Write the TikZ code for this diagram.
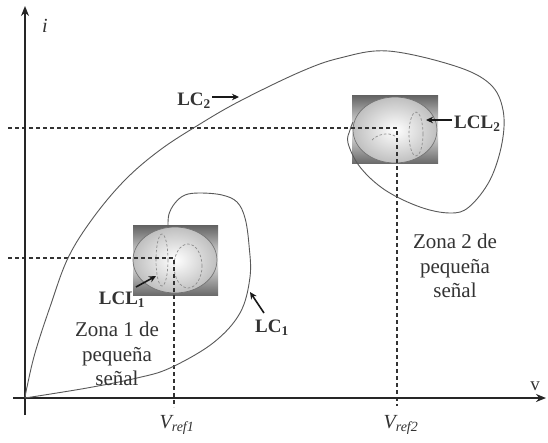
\documentclass[tikz,border=0pt]{standalone}
\usepackage{fontspec}
\setmainfont{Liberation Serif}
\usetikzlibrary{arrows.meta}
\begin{document}
\begin{tikzpicture}[x=1pt,y=-1pt,
  axis/.style={line width=1.8pt, black!85, -{Stealth[length=10pt,width=8pt]}},
  guide/.style={line width=1.3pt, black!80, dash pattern=on 4pt off 3pt},
  curve/.style={line width=0.9pt, black!65},
  pointer/.style={line width=1.6pt, black!90, -{Stealth[length=7pt,width=6.5pt]}},
  lbl/.style={font=\fontsize{19}{21}\selectfont\bfseries, inner sep=0pt, text=black!80},
  zona/.style={font=\fontsize{21}{24.5}\selectfont, align=center, inner sep=0pt, text=black!80},
  axlbl/.style={font=\fontsize{20}{22}\selectfont\itshape, inner sep=0pt, text=black!80},
  boxshade/.style={top color=black!62, bottom color=black!58, middle color=black!8, draw=none},
  spot/.style={inner color=white, outer color=black!25, draw=black!55, line width=0.7pt},
  ghost/.style={draw=black!45, line width=0.7pt, dash pattern=on 2.5pt off 2pt}
]
\useasboundingbox (0,0) rectangle (548,442);
\fill[white] (0,0) rectangle (548,442);

% small-signal boxes
\path[boxshade] (133,225) rectangle (218,295);
\path[spot] (175,260) ellipse [x radius=42pt, y radius=33pt];
\path[ghost] (162,260) ellipse [x radius=6pt, y radius=26pt];
\path[ghost] (188,266) ellipse [x radius=14pt, y radius=22pt];

\path[boxshade] (352,95) rectangle (438,163);
\path[spot] (395,130) ellipse [x radius=42pt, y radius=33pt];
\path[ghost] (416,134) ellipse [x radius=7pt, y radius=22pt];
\draw[ghost] (372,140) .. controls (378,134) and (388,132) .. (395,136);

% coordinates
\coordinate (O) at (25,398);
\coordinate (xstart) at (13,398);
\coordinate (xend) at (546,398);
\coordinate (ystart) at (25,415);
\coordinate (yend) at (25,6);
\coordinate (h1) at (8,258);
\coordinate (p1) at (174,258);
\coordinate (b1) at (174,407);
\coordinate (h2) at (8,128);
\coordinate (p2) at (397,128);
\coordinate (b2) at (397,406);

% guide lines
\draw[guide] (h1) -- (p1) -- (b1);
\draw[guide] (h2) -- (p2) -- (b2);

% axes
\draw[axis] (xstart) -- (xend);
\draw[axis] (ystart) -- (yend);

% limit cycles
\draw[curve] plot[smooth, tension=0.6] coordinates {
 (25,398) (27,387) (35,353) (50,307) (68,258) (93,218) (125,180) (160,150)
 (200,124) (240,101) (300,72) (340,58) (388,51) (455,66) (490,84) (503,110) (502,143)
 (490,180) (469,207) (450,213) (420,207) (385,190) (360,167) (348,143) (350,130) (353,122)};
\draw[curve] plot[smooth, tension=0.6] coordinates {
 (25,398) (87,388) (137,378) (170,368) (213,343) (240,313) (250,277) (249,245)
 (245,218) (237,202) (222,195) (200,193) (185,195) (175,203) (169,214) (168,225)};

% labels
\node[axlbl] (ilbl) at (45,26) {i};
\node[font=\fontsize{19}{21}\selectfont, inner sep=0pt, text=black!80] (vlbl) at (535,386) {v};
\node[axlbl] (vr1) at (177,425) {V\textsubscript{ref1}};
\node[axlbl] (vr2) at (401,425) {V\textsubscript{ref2}};

\node[lbl, anchor=east] (lc2) at (211,101) {LC\textsubscript{2}};
\coordinate (lc2tip) at (239,97);
\draw[pointer] ([xshift=1pt]lc2.east |- lc2tip) -- (lc2tip);

\node[lbl, anchor=west] (lcl2) at (454,124) {LCL\textsubscript{2}};
\coordinate (lcl2tip) at (426,120);
\draw[pointer] ([xshift=-2pt]lcl2.west |- lcl2tip) -- (lcl2tip);

\node[lbl] (lcl1) at (122,300) {LCL\textsubscript{1}};
\coordinate (lcl1tail) at (136,287);
\coordinate (lcl1tip) at (156,276);
\draw[pointer] (lcl1tail) -- (lcl1tip);

\node[lbl] (lc1) at (272,328) {LC\textsubscript{1}};
\coordinate (lc1tail) at (264,313);
\coordinate (lc1tip) at (250,292);
\draw[pointer] (lc1tail) -- (lc1tip);

\node[zona] (z1) at (117,354) {Zona 1 de\\pequeña\\señal};
\node[zona] (z2) at (455,266) {Zona 2 de\\pequeña\\señal};
\end{tikzpicture}
\end{document}
